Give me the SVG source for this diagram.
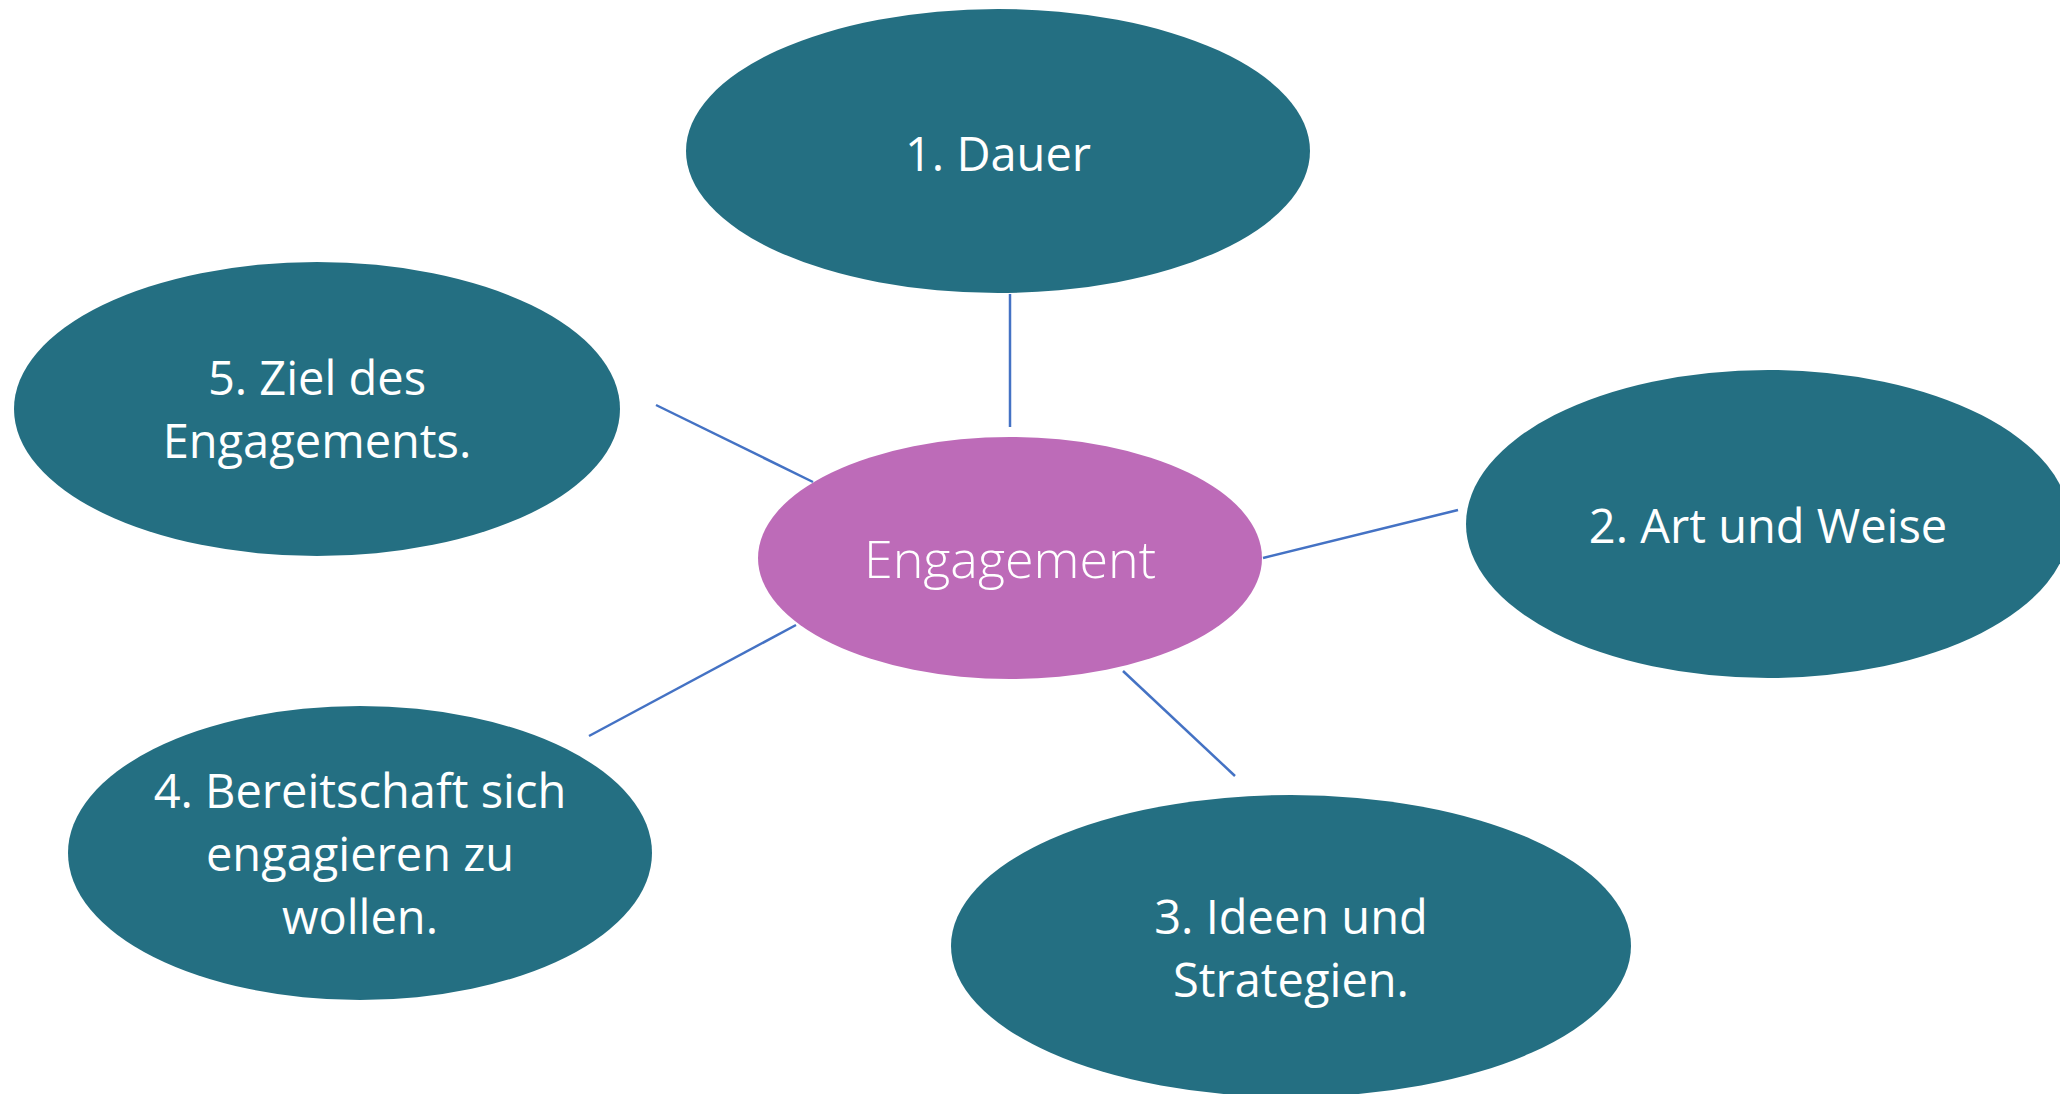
<svg xmlns="http://www.w3.org/2000/svg" width="2060" height="1094" viewBox="0 0 2060 1094">
<style>
.node{fill:#246F82;}
.center{fill:#BD6BB8;}
.lbl{font-family:"Open Sans","Noto Sans",sans-serif;font-size:47px;fill:#FFFFFF;text-anchor:middle;}
.clbl{font-family:"Open Sans","Noto Sans",sans-serif;font-size:52px;font-weight:300;fill:#FFFFFF;text-anchor:middle;}
.conn{stroke:#4472C4;stroke-width:2.5;fill:none;}
</style>
<rect width="2060" height="1094" fill="#FFFFFF"/>
<g id="connectors">
<line class="conn" x1="1010" y1="294" x2="1010" y2="427"/>
<line class="conn" x1="1263" y1="558" x2="1458" y2="510"/>
<line class="conn" x1="1123" y1="671" x2="1235" y2="776"/>
<line class="conn" x1="796" y1="625" x2="589" y2="736"/>
<line class="conn" x1="656" y1="405" x2="813" y2="482"/>
</g>
<g id="node-dauer">
<ellipse class="node" cx="998" cy="151" rx="312" ry="142"/>
<text class="lbl" x="998" y="171">1. Dauer</text>
</g>
<g id="node-art">
<ellipse class="node" cx="1768" cy="524" rx="302" ry="154"/>
<text class="lbl" x="1768" y="543">2. Art und Weise</text>
</g>
<g id="node-ideen">
<ellipse class="node" cx="1291" cy="946" rx="340" ry="151"/>
<text class="lbl" x="1291" y="934">3. Ideen und</text>
<text class="lbl" x="1291" y="997">Strategien.</text>
</g>
<g id="node-bereitschaft">
<ellipse class="node" cx="360" cy="853" rx="292" ry="147"/>
<text class="lbl" x="360" y="808">4. Bereitschaft sich</text>
<text class="lbl" x="360" y="871">engagieren zu</text>
<text class="lbl" x="360" y="934">wollen.</text>
</g>
<g id="node-ziel">
<ellipse class="node" cx="317" cy="409" rx="303" ry="147"/>
<text class="lbl" x="317" y="395">5. Ziel des</text>
<text class="lbl" x="317" y="458">Engagements.</text>
</g>
<g id="node-engagement">
<ellipse class="center" cx="1010" cy="558" rx="252" ry="121"/>
<text class="clbl" x="1010" y="578">Engagement</text>
</g>
</svg>
